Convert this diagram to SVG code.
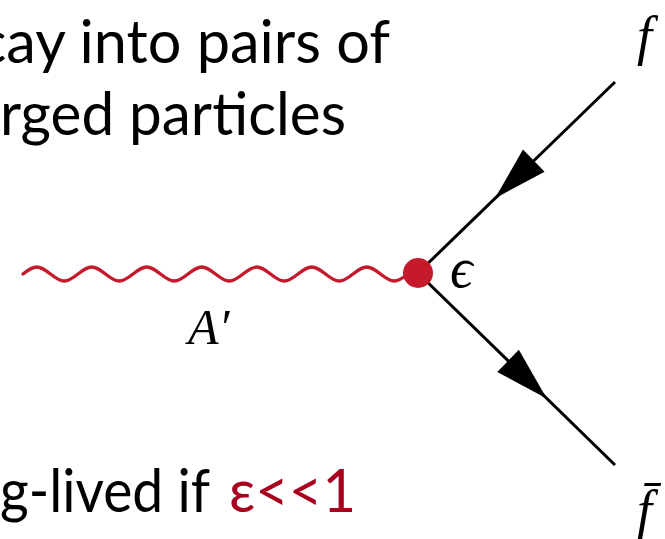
<svg xmlns="http://www.w3.org/2000/svg" width="665" height="539" viewBox="0 0 665 539">
  <style>
    .body { font-family: Lato, "Open Sans", "Noto Sans", sans-serif; font-size: 60px; fill: #000; }
    .red { fill: #a8001f; }
    .math { font-family: "Liberation Serif", "DejaVu Serif", serif; font-style: italic; font-size: 50px; fill: #000; }
    .fermion { stroke: #000; stroke-width: 3; fill: none; }
    .photon { stroke: #c41a2c; stroke-width: 3.3; fill: none; stroke-linecap: round; }
  </style>
  <defs>
    <polygon id="arrowhead" points="0,0 -54,-15.5 -54,15.5" fill="#000"/>
  </defs>
  <rect width="665" height="539" fill="#fff"/>

  <g id="text-top">
    <text class="body" x="-22" y="63" textLength="412" lengthAdjust="spacingAndGlyphs">cay into pairs of</text>
    <text class="body" x="0" y="135" textLength="346" lengthAdjust="spacingAndGlyphs">rged particles</text>
  </g>

  <g id="text-bottom">
    <text class="body" x="0" y="512" textLength="210" lengthAdjust="spacingAndGlyphs">g-lived if</text>
    <text class="body red" x="229" y="512" textLength="127" lengthAdjust="spacingAndGlyphs">ε&lt;&lt;1</text>
  </g>

  <g id="connectors">
    <path id="photon" class="photon" d="M23,274 c11.67,-9.33 15.83,-9.33 27.5,0 s15.83,9.33 27.5,0 s15.83,-9.33 27.5,0 s15.83,9.33 27.5,0 s15.83,-9.33 27.5,0 s15.83,9.33 27.5,0 s15.83,-9.33 27.5,0 s15.83,9.33 27.5,0 s15.83,-9.33 27.5,0 s15.83,9.33 27.5,0 s15.83,-9.33 27.5,0 s15.83,9.33 27.5,0 s15.83,-9.33 27.5,0 s15.83,9.33 27.5,0"/>
    <g id="fermion-in">
      <line class="fermion" x1="615" y1="82" x2="418" y2="273"/>
      <use href="#arrowhead" transform="translate(495,198.3) rotate(135.9)"/>
    </g>
    <g id="fermion-out">
      <line class="fermion" x1="418" y1="273" x2="615" y2="465"/>
      <use href="#arrowhead" transform="translate(546.7,398.6) rotate(44.3)"/>
    </g>
  </g>

  <g id="vertex">
    <circle cx="418" cy="273" r="15" fill="#c41a2c"/>
    <text class="math" x="450" y="287" style="font-size:56px">ϵ</text>
  </g>

  <g id="label-Aprime">
    <text class="math" x="188" y="344">A′</text>
  </g>

  <g id="label-f">
    <text class="math" x="637" y="54" style="font-size:54px">f</text>
  </g>

  <g id="label-fbar">
    <text class="math" x="637" y="528" style="font-size:54px">f̄</text>
  </g>
</svg>
